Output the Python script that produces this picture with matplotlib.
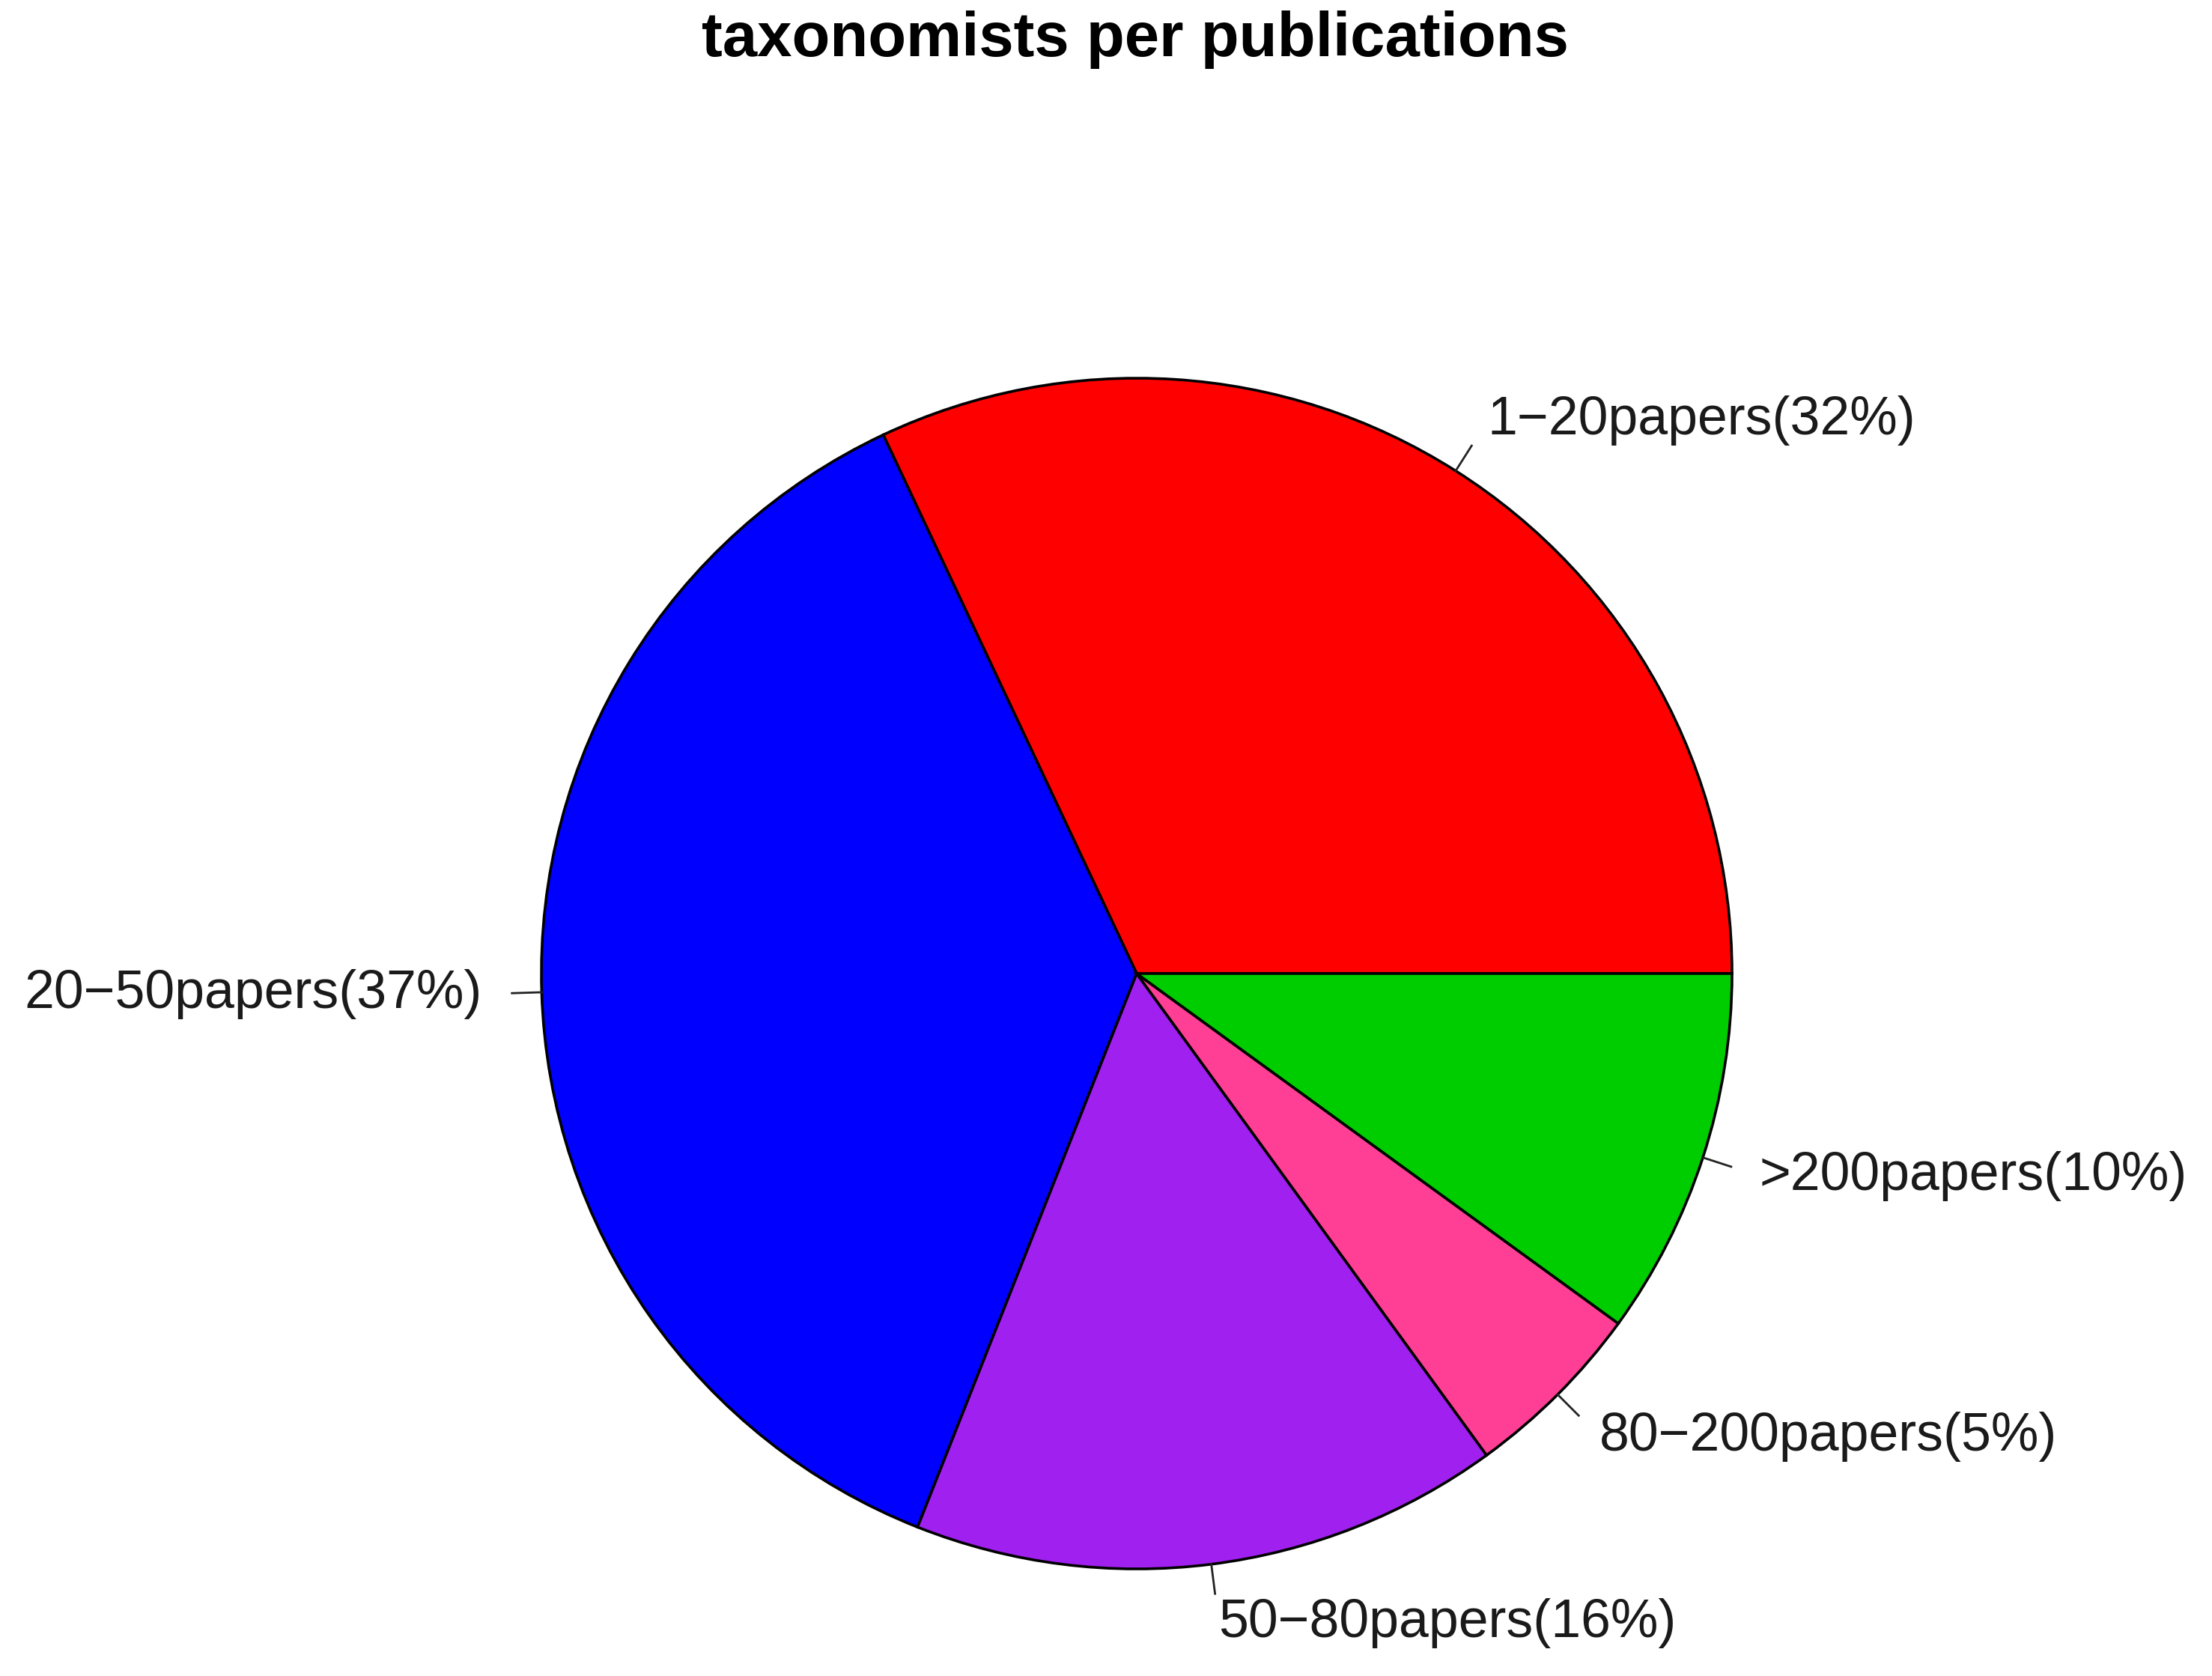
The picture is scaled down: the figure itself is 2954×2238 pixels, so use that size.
import numpy as np
import matplotlib
matplotlib.use("Agg")
import matplotlib.pyplot as plt

plt.rcParams['font.family'] = ['Liberation Sans', 'DejaVu Sans']

# slices, counter-clockwise from 3 o'clock (R pie style)
labels = ["1\u221220papers(32%)", "20\u221250papers(37%)", "50\u221280papers(16%)",
          "80\u2212200papers(5%)", ">200papers(10%)"]
shares = [32, 37, 16, 5, 10]
colors = ["#FF0000", "#0000FF", "#A020F0", "#FF3E96", "#00CD00"]

W, H, DPI = 2954, 2238, 200
fig = plt.figure(figsize=(W / DPI, H / DPI), dpi=DPI)
ax = fig.add_axes([0, 0, 1, 1])

wedges, texts = ax.pie(
    shares,
    colors=colors,
    labels=labels,
    startangle=0,
    counterclock=True,
    radius=1,
    labeldistance=1.1,
    textprops=dict(fontsize=25.8, color="#1a1a1a"),
    wedgeprops=dict(edgecolor="black", linewidth=1.3),
)

# little tick marks like R's pie()
for w in wedges:
    mid = np.deg2rad((w.theta1 + w.theta2) / 2)
    ax.plot([np.cos(mid), 1.05 * np.cos(mid)], [np.sin(mid), 1.05 * np.sin(mid)],
            color="#222222", lw=1.0)

# place pie: center at (1518, 1300) px from top-left, radius 795 px
r_px = 795
cx, cy = 1518, H - 1300
ax.set_aspect('auto')
ax.set_xlim(-cx / r_px, (W - cx) / r_px)
ax.set_ylim(-cy / r_px, (H - cy) / r_px)
ax.axis('off')

fig.text(1516 / W, 1 - 75 / H, "taxonomists per publications",
         ha="center", va="baseline", fontsize=30, fontweight="bold")

fig.savefig("out.png", dpi=DPI, facecolor="white")
